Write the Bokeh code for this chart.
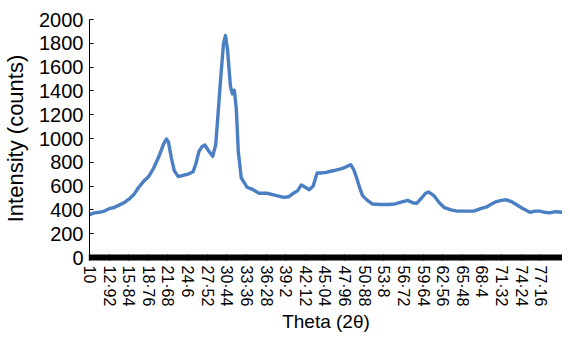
import numpy as np
from bokeh.plotting import figure
from bokeh.models import FixedTicker, Range1d
from bokeh.embed import file_html
from bokeh.resources import INLINE

theta = [10.0, 10.73, 11.47, 12.2, 12.93, 13.67, 14.4, 15.13, 15.87, 16.6, 17.33, 18.06, 18.8, 19.53,
         20.26, 21.0, 21.44, 21.73, 22.17, 22.61, 23.2, 23.93, 24.66, 25.4, 25.84, 26.28, 26.72, 27.16,
         27.74, 28.33, 28.77, 29.06, 29.5, 29.94, 30.23, 30.53, 30.97, 31.26, 31.55, 31.85, 32.14, 32.58,
         33.02, 33.46, 34.34, 35.22, 36.39, 37.86, 38.89, 39.62, 40.35, 40.94, 41.52, 42.11, 42.7, 43.28,
         43.87, 44.46, 45.19, 45.92, 46.66, 47.39, 48.12, 48.86, 49.3, 49.74, 50.18, 50.62, 51.35, 52.08,
         53.26, 54.43, 55.45, 56.63, 57.36, 58.09, 58.68, 59.41, 60.0, 60.44, 60.88, 61.32, 62.05, 62.79,
         63.81, 64.69, 66.01, 67.18, 68.21, 69.09, 69.82, 70.56, 71.29, 72.02, 72.76, 73.49, 74.52, 75.54,
         76.28, 77.01, 77.74, 78.48, 79.35, 80.38]

intensity = [360, 375, 380, 390, 410, 420, 440, 460, 490, 530, 590, 640, 680, 750,
             840, 950, 995, 975, 840, 730, 680, 690, 700, 720, 790, 890, 930, 945,
             895, 850, 945, 1155, 1490, 1800, 1865, 1750, 1440, 1375, 1405, 1245, 890, 670,
             630, 590, 570, 540, 540, 520, 505, 510, 540, 560, 610, 590, 570, 600,
             710, 710, 715, 725, 735, 745, 760, 780, 740, 670, 590, 520, 480, 450,
             445, 445, 450, 470, 480, 460, 455, 500, 540, 550, 535, 515, 460, 420,
             400, 390, 390, 390, 410, 425, 450, 470, 480, 485, 470, 445, 410, 380,
             390, 390, 380, 375, 385, 380]

x_tick_values = [10, 12.92, 15.84, 18.76, 21.68, 24.6, 27.52, 30.44, 33.36, 36.28, 39.2, 42.12,
                 45.04, 47.96, 50.88, 53.8, 56.72, 59.64, 62.56, 65.48, 68.4, 71.32, 74.24, 77.16]
x_tick_labels = ["10", "12·92", "15·84", "18·76", "21·68", "24·6", "27·52", "30·44", "33·36",
                 "36·28", "39·2", "42·12", "45·04", "47·96", "50·88", "53·8", "56·72", "59·64",
                 "62·56", "65·48", "68·4", "71·32", "74·24", "77·16"]
y_tick_values = [0, 200, 400, 600, 800, 1000, 1200, 1400, 1600, 1800, 2000]

FONT = "Liberation Sans"

p = figure(width=562, height=336, output_backend="svg", toolbar_location=None,
           x_range=Range1d(10, 80.38), y_range=Range1d(0, 2000),
           min_border_left=82, min_border_right=0, min_border_top=19, min_border_bottom=79)
p.outline_line_color = None
p.xgrid.visible = False
p.ygrid.visible = False
p.background_fill_color = "white"

p.line(theta, intensity, line_color="#4A7FC4", line_width=3.4, line_join="round")

# x axis: dense category-like ticks forming a black band
minor = list(np.arange(10, 80.4, 0.12))
p.xaxis.ticker = FixedTicker(ticks=x_tick_values, minor_ticks=minor)
p.xaxis.major_label_overrides = {v: l for v, l in zip(x_tick_values, x_tick_labels)}
p.xaxis.major_label_orientation = "vertical"
p.xaxis.major_tick_in = 3
p.xaxis.major_tick_out = 3
p.xaxis.minor_tick_in = 3
p.xaxis.minor_tick_out = 3
p.xaxis.minor_tick_line_width = 1.2
p.xaxis.major_tick_line_width = 1.2
p.xaxis.major_tick_line_color = "black"
p.xaxis.minor_tick_line_color = "black"
p.xaxis.axis_line_color = "black"
p.xaxis.major_label_standoff = 5
p.xaxis.major_label_text_font = FONT
p.xaxis.major_label_text_font_size = "16px"
p.xaxis.major_label_text_color = "black"
p.xaxis.axis_label = "Theta (2θ)"
p.xaxis.axis_label_text_font = FONT
p.xaxis.axis_label_text_font_size = "19px"
p.xaxis.axis_label_text_font_style = "normal"
p.xaxis.axis_label_text_color = "black"
p.xaxis.axis_label_standoff = 2

p.yaxis.ticker = FixedTicker(ticks=y_tick_values, minor_ticks=[])
p.yaxis.major_tick_in = 4
p.yaxis.major_tick_out = 0
p.yaxis.major_tick_line_color = "black"
p.yaxis.axis_line_color = "black"
p.yaxis.major_label_standoff = 6
p.yaxis.major_label_text_font = FONT
p.yaxis.major_label_text_font_size = "20px"
p.yaxis.major_label_text_color = "black"
p.yaxis.axis_label = "Intensity (counts)"
p.yaxis.axis_label_text_font = FONT
p.yaxis.axis_label_text_font_size = "22px"
p.yaxis.axis_label_text_font_style = "normal"
p.yaxis.axis_label_text_color = "black"
p.yaxis.axis_label_standoff = 8

open("out.html", "w").write(file_html(p, INLINE))
